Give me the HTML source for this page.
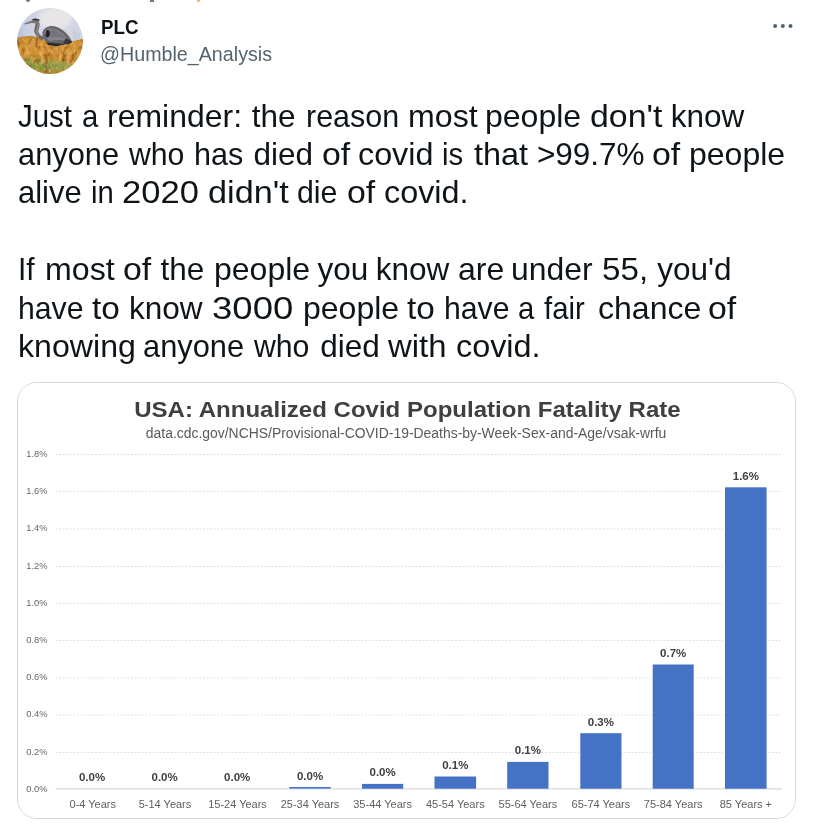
<!DOCTYPE html>
<html lang="en">
<head>
<meta charset="utf-8">
<title>Tweet</title>
<style>
html,body{margin:0;padding:0;background:#fff;}
body{width:813px;height:830px;position:relative;overflow:hidden;font-family:"Liberation Sans",sans-serif;color:#0f1419;}
.abs{position:absolute;white-space:nowrap;}
.name{left:100.5px;top:14.5px;font-size:20.5px;line-height:24px;font-weight:700;color:#0f1419;transform-origin:0 0;transform:scaleX(0.915);}
.handle{left:100px;top:41.5px;font-size:20.5px;line-height:24px;color:#536471;transform-origin:0 0;transform:scaleX(0.96);}
.ln{position:absolute;left:0;height:0;width:813px;}
.w{position:absolute;top:-29.91px;white-space:nowrap;font-family:"Liberation Sans",sans-serif;font-size:31.5px;line-height:38px;transform-origin:0 0;color:#0f1419;}
.card{position:absolute;left:17px;top:382px;width:777px;height:435px;border:1px solid #cfd9de;border-radius:20px;background:#fff;overflow:hidden;}
.chart{position:absolute;left:0;top:0;}
</style>
</head>
<body>
<!-- cropped remnants at very top -->
<div class="abs" style="left:26px;top:0;width:4px;height:2px;background:#6b7680;border-radius:0 0 2px 2px;"></div>
<div class="abs" style="left:150px;top:0;width:4px;height:1.5px;background:#6b7680;"></div>
<div class="abs" style="left:197px;top:0;width:2.5px;height:2px;background:#f4b266;border-radius:0 0 1px 1px;"></div>

<!-- avatar -->
<svg class="abs" style="left:17px;top:8px" width="66" height="66" viewBox="0 0 66 66">
  <defs>
    <clipPath id="av"><circle cx="33" cy="33" r="32.9"/></clipPath>
    <filter id="b1" x="-20%" y="-20%" width="140%" height="140%"><feGaussianBlur stdDeviation="0.8"/></filter>
    <filter id="b2" x="-20%" y="-20%" width="140%" height="140%"><feGaussianBlur stdDeviation="1.4"/></filter>
    <filter id="tx" x="0" y="0" width="100%" height="100%" color-interpolation-filters="sRGB">
      <feTurbulence type="fractalNoise" baseFrequency="0.22 0.16" numOctaves="3" seed="7" result="n"/>
      <feColorMatrix in="n" type="matrix" values="0 0 0 0 0.93  0 0 0 0 0.70  0 0 0 0 0.36  2.6 0 0 0 -1.15" result="hi"/>
      <feColorMatrix in="n" type="matrix" values="0 0 0 0 0.52  0 0 0 0 0.32  0 0 0 0 0.10  0 -2.8 0 0 1.35" result="lo"/>
      <feMerge><feMergeNode in="SourceGraphic"/><feMergeNode in="hi"/><feMergeNode in="lo"/></feMerge>
      <feComposite in2="SourceGraphic" operator="in"/>
      <feGaussianBlur stdDeviation="0.45"/>
    </filter>
    <linearGradient id="sky" x1="0" y1="0" x2="1" y2="0">
      <stop offset="0" stop-color="#bfc8de"/><stop offset="0.4" stop-color="#d7dae6"/><stop offset="1" stop-color="#d0d4e3"/>
    </linearGradient>
  </defs>
  <g clip-path="url(#av)">
    <rect width="66" height="66" fill="url(#sky)"/>
    <ellipse cx="38" cy="11" rx="17" ry="10" fill="#e7e5e6" filter="url(#b2)"/>
    <g filter="url(#b1)" fill="#9a9aa2" opacity="0.35">
      <rect x="57" y="22" width="1.2" height="10"/><rect x="60.5" y="24" width="1" height="8"/><rect x="4" y="22" width="1" height="8"/><rect x="1.5" y="24" width="1.2" height="8"/>
    </g>
    <g filter="url(#tx)">
      <path d="M-2 30 L6 28.5 L14 27.5 L20 29 L26 31.5 L36 35 L50 35 L58 32.5 L68 30 L68 70 L-2 70 Z" fill="#c4872e"/>
      <path d="M-2 36 L68 36 L68 46 L-2 47 Z" fill="#cf9238"/>
      <g filter="url(#b2)">
      <path d="M4 50 L22 50.5 L48 53 L56 57 L50 63 L28 65 L12 60 Z" fill="#949c4a"/>
      <path d="M9 53 L30 55 L40 59 L24 63 L13 59 Z" fill="#7f9440"/>
      <path d="M26 63.5 L50 62.5 L44 68 L28 68 Z" fill="#b98534"/>
      </g>
    </g>
    <g>
      <!-- heron body -->
      <path d="M25.5 24 C27 19.5 33 16.8 38.5 18.6 C46 21 52 27 55 33.5 C52 36.5 44 37.5 36 36.8 C29 36 24.5 30 25.5 24 Z" fill="#676468"/>
      <path d="M28 22.5 C33 18.5 40 20 47.5 27.5 C50 30 52 32 53 33.5 C47 32 40 31.5 33 33 C28 31 26.5 26 28 22.5 Z" fill="#86848a"/>
      <path d="M33 21 C38 21 44 25 49 31 C44 29 38 28.5 34 29.5 Z" fill="#75737a"/>
      <path d="M29.2 22.5 C31.2 21 33.6 23 32.8 27 C32 30.2 29.2 30.2 28.4 27.4 Z" fill="#23232b"/>
      <path d="M49 30 L55.5 34 L52 36.5 L46 35.5 Z" fill="#38363c"/>
      <path d="M29 34.5 L48 36 L40 38.2 L31 37 Z" fill="#2a282a"/>
      <!-- neck -->
      <path d="M19.5 11.8 C23.4 13 23.2 18 21.4 22 C20.4 25 24 28 28 30 L25 32.5 C20 29.5 16 25 17.6 20 C18.6 16 19.2 15 17 14 Z" fill="#6b6766"/>
      <path d="M20.5 13 C22.4 15 22 19 20.6 22.4 C20 24.6 21 26.4 23 28 L21.6 28.8 C18.6 26 18.4 23 19.6 20 C20.6 17 20.8 15 19.6 13.6 Z" fill="#8f8986"/>
      <!-- head -->
      <path d="M15 12.5 C17 10.5 21 10.6 22.2 13 C21.2 15.2 18 15.6 15 15 L7.4 16.4 L7.8 15.2 Z" fill="#7a736f"/>
      <path d="M14.5 11.6 C17.5 9.8 21.4 10.2 23.4 12.6 L18 12.6 Z" fill="#37343a"/>
    </g>
  </g>
</svg>

<div class="abs name">PLC</div>
<div class="abs handle">@Humble_Analysis</div>

<!-- more dots -->
<svg class="abs" style="left:768px;top:20px" width="30" height="12" viewBox="0 0 30 12">
  <circle cx="7.1" cy="6" r="2" fill="#536471"/><circle cx="14.8" cy="6" r="2" fill="#536471"/><circle cx="22.5" cy="6" r="2" fill="#536471"/>
</svg>

<!-- tweet text -->
<div class="ln" style="top:126.7px">
<span class="w" style="left:17.9px;transform:scaleX(0.935)">Just</span>
<span class="w" style="left:81.9px;transform:scaleX(0.930)">a</span>
<span class="w" style="left:107.2px;transform:scaleX(1.015)">reminder:</span>
<span class="w" style="left:251.7px">the</span>
<span class="w" style="left:305.8px;transform:scaleX(0.967)">reason</span>
<span class="w" style="left:408.3px;transform:scaleX(1.020)">most</span>
<span class="w" style="left:485.4px;transform:scaleX(1.016)">people</span>
<span class="w" style="left:589.8px;transform:scaleX(1.075)">don't</span>
<span class="w" style="left:670.7px">know</span>
</div>
<div class="ln" style="top:165.2px">
<span class="w" style="left:17.7px;transform:scaleX(0.978)">anyone</span>
<span class="w" style="left:129.3px;transform:scaleX(0.959)">who</span>
<span class="w" style="left:194.3px;transform:scaleX(0.972)">has</span>
<span class="w" style="left:253.5px">died</span>
<span class="w" style="left:322.1px;transform:scaleX(1.074)">of</span>
<span class="w" style="left:358.2px;transform:scaleX(1.025)">covid</span>
<span class="w" style="left:441.9px;transform:scaleX(0.930)">is</span>
<span class="w" style="left:473.6px;transform:scaleX(1.029)">that</span>
<span class="w" style="left:536.9px">&gt;99.7%</span>
<span class="w" style="left:652.3px;transform:scaleX(1.074)">of</span>
<span class="w" style="left:688.5px;transform:scaleX(1.016)">people</span>
</div>
<div class="ln" style="top:203.2px">
<span class="w" style="left:17.6px;transform:scaleX(0.983)">alive</span>
<span class="w" style="left:90.5px;transform:scaleX(0.930)">in</span>
<span class="w" style="left:122.4px;transform:scaleX(1.098)">2020</span>
<span class="w" style="left:207.5px;transform:scaleX(1.086)">didn't</span>
<span class="w" style="left:296.7px;transform:scaleX(0.962)">die</span>
<span class="w" style="left:347.2px;transform:scaleX(1.074)">of</span>
<span class="w" style="left:383.5px;transform:scaleX(1.027)">covid.</span>
</div>
<div class="ln" style="top:280.1px">
<span class="w" style="left:17.7px;transform:scaleX(0.950)">If</span>
<span class="w" style="left:44.6px;transform:scaleX(1.020)">most</span>
<span class="w" style="left:123.0px;transform:scaleX(1.074)">of</span>
<span class="w" style="left:160.5px">the</span>
<span class="w" style="left:213.9px;transform:scaleX(1.016)">people</span>
<span class="w" style="left:317.5px">you</span>
<span class="w" style="left:375.7px">know</span>
<span class="w" style="left:458.4px;transform:scaleX(1.016)">are</span>
<span class="w" style="left:510.6px;transform:scaleX(1.013)">under</span>
<span class="w" style="left:602.0px;transform:scaleX(1.053)">55,</span>
<span class="w" style="left:657.3px">you'd</span>
</div>
<div class="ln" style="top:318.7px">
<span class="w" style="left:17.7px;transform:scaleX(0.959)">have</span>
<span class="w" style="left:92.3px;transform:scaleX(1.058)">to</span>
<span class="w" style="left:128.9px">know</span>
<span class="w" style="left:211.9px;transform:scaleX(1.160)">3000</span>
<span class="w" style="left:303.0px;transform:scaleX(1.016)">people</span>
<span class="w" style="left:407.1px;transform:scaleX(1.058)">to</span>
<span class="w" style="left:443.8px;transform:scaleX(0.959)">have</span>
<span class="w" style="left:517.5px;transform:scaleX(0.930)">a</span>
<span class="w" style="left:543.7px;transform:scaleX(0.930)">fair</span>
<span class="w" style="left:597.6px;transform:scaleX(1.017)">chance</span>
<span class="w" style="left:708.4px;transform:scaleX(1.074)">of</span>
</div>
<div class="ln" style="top:356.8px">
<span class="w" style="left:17.6px;transform:scaleX(1.020)">knowing</span>
<span class="w" style="left:143.4px;transform:scaleX(0.978)">anyone</span>
<span class="w" style="left:254.2px;transform:scaleX(0.959)">who</span>
<span class="w" style="left:320.3px">died</span>
<span class="w" style="left:388.2px;transform:scaleX(1.044)">with</span>
<span class="w" style="left:455.9px;transform:scaleX(1.027)">covid.</span>
</div>

<!-- chart card -->
<div class="card">
<svg class="chart" width="777" height="435" viewBox="18 383 777 435" font-family="'Liberation Sans',sans-serif">
  <rect x="18" y="383" width="777" height="435" fill="#fff"/>
  <text x="134.2" y="417.2" font-size="22" font-weight="700" fill="#404040" textLength="546.5" lengthAdjust="spacingAndGlyphs">USA: Annualized Covid Population Fatality Rate</text>
  <text x="145.8" y="438.3" font-size="14" fill="#595959" textLength="520.5" lengthAdjust="spacingAndGlyphs">data.cdc.gov/NCHS/Provisional-COVID-19-Deaths-by-Week-Sex-and-Age/vsak-wrfu</text>
  <g stroke="#dedede" stroke-width="1.2" stroke-dasharray="1.8 1.8" fill="none">
    <path d="M55.5 454.5H782"/><path d="M55.5 491.5H782"/><path d="M55.5 529H782"/><path d="M55.5 566.5H782"/><path d="M55.5 603.5H782"/><path d="M55.5 640.5H782"/><path d="M55.5 678H782"/><path d="M55.5 715H782"/><path d="M55.5 752.5H782"/>
  </g>
  <path d="M55.5 788.8H782" stroke="#d9d9d9" stroke-width="1.2" fill="none"/>
  <g font-size="9.3" fill="#666666" text-anchor="end">
    <text x="47.5" y="456.8">1.8%</text><text x="47.5" y="494.0">1.6%</text><text x="47.5" y="531.2">1.4%</text><text x="47.5" y="568.6">1.2%</text><text x="47.5" y="605.8">1.0%</text><text x="47.5" y="643.0">0.8%</text><text x="47.5" y="680.2">0.6%</text><text x="47.5" y="717.4">0.4%</text><text x="47.5" y="754.7">0.2%</text><text x="47.5" y="791.5">0.0%</text>
  </g>
  <g fill="#4472c4">
    <rect x="289.4" y="787" width="41.4" height="1.6"/>
    <rect x="362" y="783.9" width="41.2" height="4.8"/>
    <rect x="434.5" y="776.5" width="41.6" height="12.2"/>
    <rect x="507.2" y="761.9" width="41.3" height="26.8"/>
    <rect x="580.3" y="733.2" width="41.2" height="55.5"/>
    <rect x="652.7" y="664.5" width="41" height="124.2"/>
    <rect x="725" y="487.3" width="41.6" height="301.4"/>
  </g>
  <g font-size="11.5" font-weight="700" fill="#404040" text-anchor="middle">
    <text x="92" y="781.3">0.0%</text><text x="164.6" y="781.3">0.0%</text><text x="237.2" y="781.3">0.0%</text><text x="310" y="779.8">0.0%</text><text x="382.6" y="776.1">0.0%</text><text x="455.3" y="768.7">0.1%</text><text x="527.9" y="754.1">0.1%</text><text x="600.9" y="725.5">0.3%</text><text x="673.2" y="656.8">0.7%</text><text x="745.9" y="480">1.6%</text>
  </g>
  <g font-size="11" fill="#5e5e5e" text-anchor="middle">
    <text x="92.7" y="808.4">0-4 Years</text><text x="165" y="808.4">5-14 Years</text><text x="237.5" y="808.4">15-24 Years</text><text x="310" y="808.4">25-34 Years</text><text x="382.6" y="808.4">35-44 Years</text><text x="455.3" y="808.4">45-54 Years</text><text x="527.9" y="808.4">55-64 Years</text><text x="600.9" y="808.4">65-74 Years</text><text x="673.2" y="808.4">75-84 Years</text><text x="745.9" y="808.4">85 Years +</text>
  </g>
</svg>
</div>
</body>
</html>
